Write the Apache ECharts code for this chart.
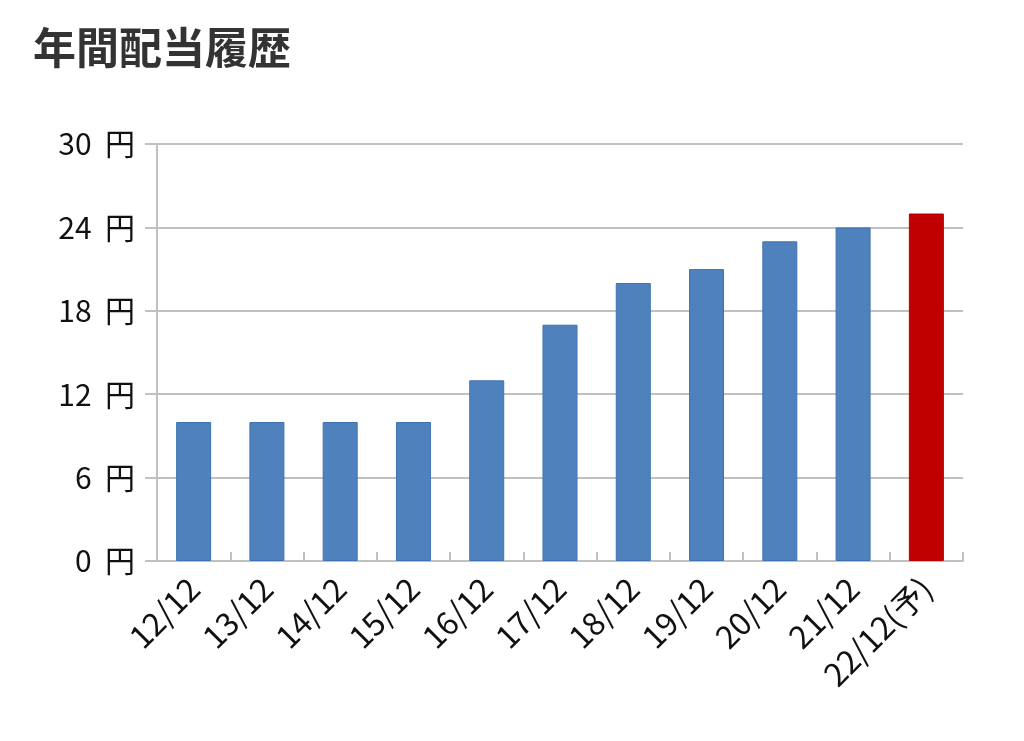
<!DOCTYPE html>
<html>
<head>
<meta charset="utf-8">
<script src="https://cdn.jsdelivr.net/npm/echarts@6/dist/echarts.min.js"></script>
<style>
html,body{margin:0;padding:0;background:#fff;}
#chart{width:1024px;height:741px;}
</style>
</head>
<body>
<div id="chart"></div>
<script>
const titleText = '年間配当履歴';
const categories = ['12/12','13/12','14/12','15/12','16/12','17/12','18/12','19/12','20/12','21/12','22/12(予)'];
const dividends = [10, 10, 10, 10, 13, 17, 20, 21, 23, 24, 25];
const forecastIndex = 10;
const yTicks = [0, 6, 12, 18, 24, 30];

const font = '"Noto Sans CJK JP", "Noto Sans", sans-serif';
const chart = echarts.init(document.getElementById('chart'));
chart.setOption({
  animation: false,
  backgroundColor: '#fff',
  title: {
    text: titleText,
    left: 28, top: 21,
    textStyle: {fontFamily: font, fontSize: 43, fontWeight: 'bold', color: '#333'}
  },
  grid: {left: 157, right: 61, top: 144, bottom: 180},
  xAxis: {
    type: 'category',
    data: categories,
    boundaryGap: true,
    axisLine: {show: true, lineStyle: {color: '#c0c0c0', width: 2}},
    axisTick: {show: true, inside: true, length: 9, alignWithLabel: false, lineStyle: {color: '#c0c0c0', width: 2}},
    axisLabel: {rotate: 45, margin: 22, interval: 0, fontFamily: font, fontSize: 32, color: '#111'}
  },
  yAxis: {
    type: 'value',
    min: yTicks[0], max: yTicks[yTicks.length - 1], interval: yTicks[1] - yTicks[0],
    axisLine: {show: true, lineStyle: {color: '#c0c0c0', width: 2}},
    axisTick: {show: true, length: 12, lineStyle: {color: '#c0c0c0', width: 2}},
    splitLine: {show: true, lineStyle: {color: '#c0c0c0', width: 2}},
    axisLabel: {formatter: '{value}  円', margin: 22, fontFamily: font, fontSize: 30, color: '#111'}
  },
  series: [{
    type: 'bar',
    barWidth: 35,
    data: dividends.map((v, i) => ({
      value: v,
      itemStyle: i === forecastIndex
        ? {color: '#c00000', borderColor: '#b80000', borderWidth: 1}
        : {color: '#4f81bd', borderColor: '#3e72b3', borderWidth: 1}
    }))
  }]
});
</script>
</body>
</html>
